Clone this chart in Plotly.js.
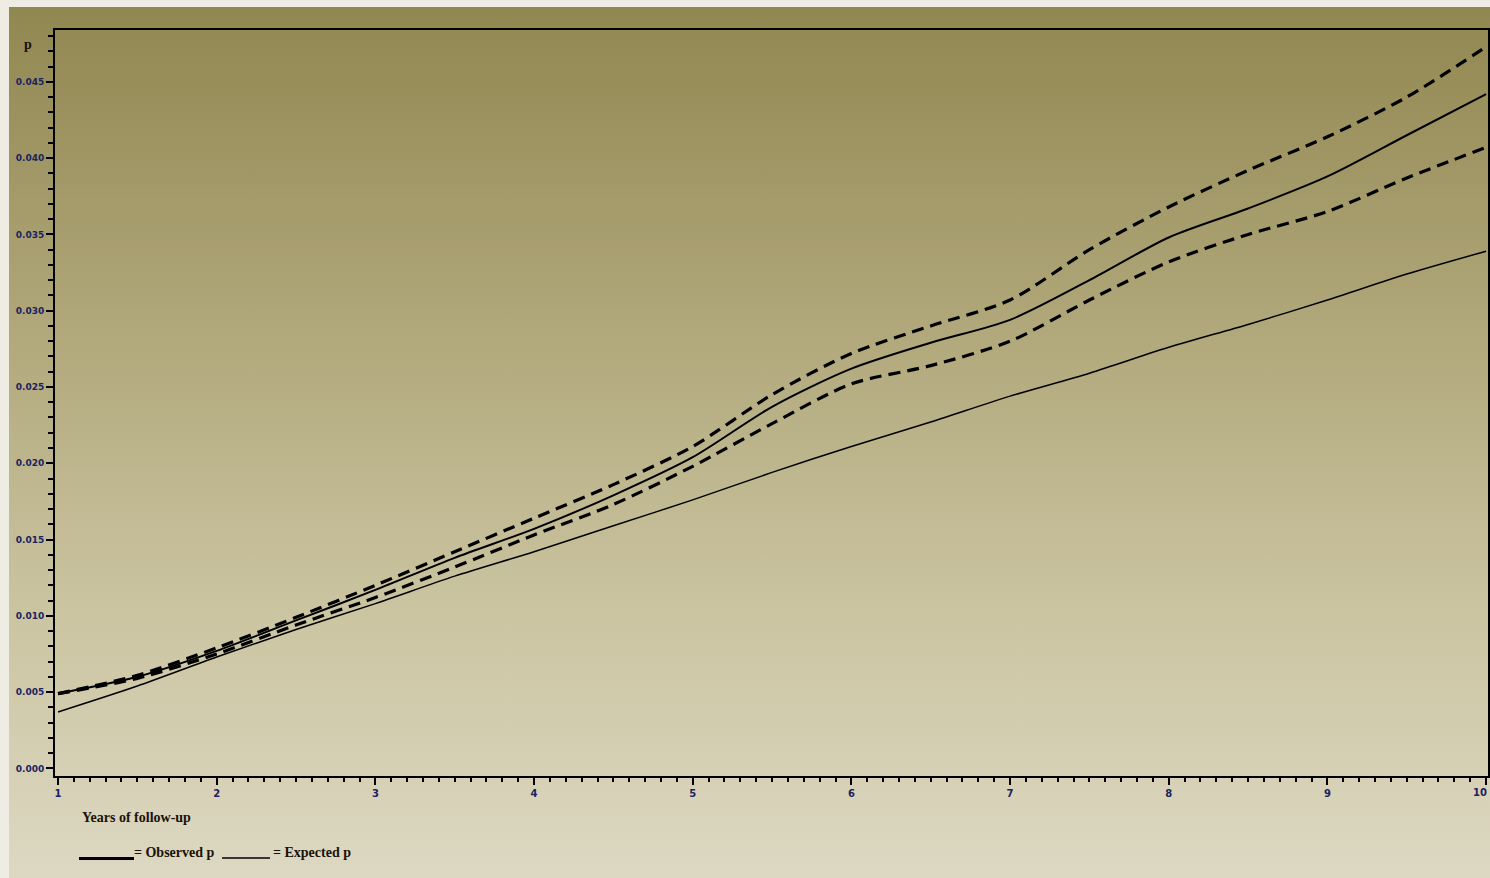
<!DOCTYPE html>
<html>
<head>
<meta charset="utf-8">
<script src="https://cdn.plot.ly/plotly-3.0.1.min.js"></script>
<style>
  html, body { margin: 0; padding: 0; background: #efece4; width: 1490px; height: 878px; overflow: hidden; }
  #panel { position: absolute; left: 9px; top: 7px; width: 1481px; height: 871px;
           background: linear-gradient(to bottom, #918751 0%, #b3aa7e 40%, #cbc5a2 70%, #ddd8c2 100%); }
  #chart { position: absolute; left: 0; top: 0; width: 1490px; height: 878px; }
</style>
</head>
<body>
<div id="panel"></div>
<div id="chart"></div>
<script>
// Years of follow-up
const years = [1, 1.5, 2, 2.5, 3, 3.5, 4, 4.5, 5, 5.5, 6, 6.5, 7, 7.5, 8, 8.5, 9, 9.5, 10];
// Observed p
const observed = [0.0049, 0.0060, 0.0077, 0.0097, 0.0117, 0.0138, 0.0157, 0.0179, 0.0204, 0.0237, 0.0262, 0.0279, 0.0294, 0.0320, 0.0348, 0.0367, 0.0388, 0.0415, 0.0442];
// Upper confidence limit of observed p
const upper = [0.0049, 0.0061, 0.0079, 0.0099, 0.0120, 0.0142, 0.0164, 0.0186, 0.0211, 0.0245, 0.0272, 0.0290, 0.0307, 0.0340, 0.0368, 0.0392, 0.0414, 0.0440, 0.0473];
// Lower confidence limit of observed p
const lower = [0.0049, 0.0059, 0.0075, 0.0094, 0.0112, 0.0132, 0.0153, 0.0173, 0.0198, 0.0226, 0.0252, 0.0264, 0.0280, 0.0307, 0.0332, 0.0350, 0.0365, 0.0387, 0.0407];
// Expected p
const expected = [0.0037, 0.0054, 0.0073, 0.0091, 0.0108, 0.0126, 0.0142, 0.0159, 0.0176, 0.0194, 0.0211, 0.0227, 0.0244, 0.0259, 0.0276, 0.0291, 0.0307, 0.0324, 0.0339];

const xTickVals = [1, 2, 3, 4, 5, 6, 7, 8, 9, 10];
const xTickText = ['1', '2', '3', '4', '5', '6', '7', '8', '9', '10'];
const yTickVals = [0, 0.005, 0.010, 0.015, 0.020, 0.025, 0.030, 0.035, 0.040, 0.045];

// pixel -> paper helpers (plot area: left 55, right 1488, top 30, bottom 776)
const L = 55, R = 1488, T = 30, B = 776;
const px = v => (v - L) / (R - L);
const py = v => (B - v) / (B - T);

const traces = [
  { x: years, y: upper, mode: 'lines', line: { color: '#000', width: 3.2, dash: '12px,7px', shape: 'spline', smoothing: 0.8 }, name: 'Upper' },
  { x: years, y: lower, mode: 'lines', line: { color: '#000', width: 3.2, dash: '12px,7px', shape: 'spline', smoothing: 0.8 }, name: 'Lower' },
  { x: years, y: observed, mode: 'lines', line: { color: '#000', width: 2, shape: 'spline', smoothing: 0.8 }, name: 'Observed p' },
  { x: years, y: expected, mode: 'lines', line: { color: '#000', width: 1.5, shape: 'spline', smoothing: 0.8 }, name: 'Expected p' }
];

const tickFont = { family: 'DejaVu Sans, Verdana, sans-serif', size: 10, color: '#1b2360', weight: 'bold' };
const serif = { family: 'Liberation Serif, Times New Roman, serif', size: 14, color: '#1a1208', weight: 'bold' };

// last x label drawn as an annotation so that it stays inside the page
const lastIdx = xTickText.length - 1;
const shownText = xTickText.map((t, i) => i === lastIdx ? '' : t);

const layout = {
  width: 1490, height: 878,
  margin: { l: L, r: 1490 - R, t: T, b: 878 - B, pad: 0 },
  paper_bgcolor: 'rgba(0,0,0,0)',
  plot_bgcolor: 'rgba(0,0,0,0)',
  showlegend: false,
  xaxis: {
    range: [0.981, 10.012],
    tickvals: xTickVals,
    ticktext: shownText,
    ticks: 'outside', ticklen: 7, tickwidth: 2, tickcolor: '#000',
    minor: { dtick: 0.1, ticks: 'outside', ticklen: 4, tickwidth: 2, tickcolor: '#000', showgrid: false },
    showline: true, linecolor: '#000', linewidth: 2, mirror: true,
    showgrid: false, zeroline: false,
    tickfont: tickFont
  },
  yaxis: {
    range: [-0.0005, 0.0484],
    tickvals: yTickVals,
    tickformat: '.3f',
    ticks: 'outside', ticklen: 7, tickwidth: 2, tickcolor: '#000',
    minor: { dtick: 0.001, ticks: 'outside', ticklen: 5, tickwidth: 2, tickcolor: '#000', showgrid: false },
    showline: true, linecolor: '#000', linewidth: 2, mirror: true,
    showgrid: false, zeroline: false,
    tickfont: { family: 'DejaVu Sans, Verdana, sans-serif', size: 9, color: '#1b2360', weight: 'bold' }
  },
  annotations: [
    { xref: 'paper', yref: 'paper', x: px(1489), y: py(793), text: xTickText[lastIdx], showarrow: false, xanchor: 'right', yanchor: 'middle', font: tickFont },
    { xref: 'paper', yref: 'paper', x: px(22), y: py(44), text: 'p', showarrow: false, xanchor: 'left', yanchor: 'middle', font: serif },
    { xref: 'paper', yref: 'paper', x: px(80), y: py(817), text: 'Years of follow-up', showarrow: false, xanchor: 'left', yanchor: 'middle', font: serif },
    { xref: 'paper', yref: 'paper', x: px(132), y: py(852), text: '= Observed p', showarrow: false, xanchor: 'left', yanchor: 'middle', font: serif },
    { xref: 'paper', yref: 'paper', x: px(271), y: py(852), text: '= Expected p', showarrow: false, xanchor: 'left', yanchor: 'middle', font: serif }
  ],
  shapes: [
    { type: 'line', xref: 'paper', yref: 'paper', x0: px(79), x1: px(134), y0: py(858.5), y1: py(858.5), line: { color: '#000', width: 3 } },
    { type: 'line', xref: 'paper', yref: 'paper', x0: px(222), x1: px(270), y0: py(858), y1: py(858), line: { color: '#000', width: 1.5 } }
  ]
};

Plotly.newPlot('chart', traces, layout, { staticPlot: true, displayModeBar: false });
</script>
</body>
</html>
